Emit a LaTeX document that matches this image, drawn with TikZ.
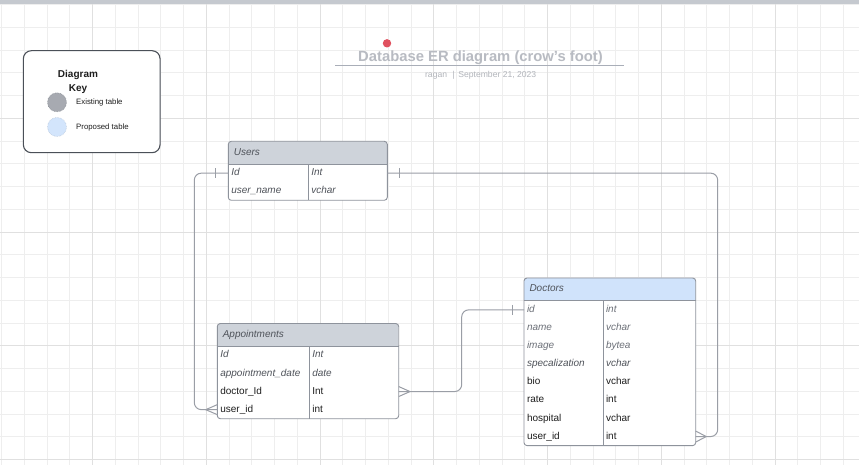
\documentclass[tikz,border=0pt]{standalone}
\usepackage{fontspec}
\setmainfont{Liberation Sans}
\usetikzlibrary{positioning, backgrounds}

\definecolor{gridminor}{HTML}{EEEEEE}
\definecolor{gridmajor}{HTML}{E0E0E0}
\definecolor{topbar}{HTML}{C5C9CF}
\definecolor{framegray}{HTML}{8E939C}
\definecolor{headgray}{HTML}{CED3DA}
\definecolor{headblue}{HTML}{D0E3FB}
\definecolor{relgray}{HTML}{9A9EA6}
\definecolor{keyframe}{HTML}{4B5058}
\definecolor{existfill}{HTML}{A7AAB1}
\definecolor{existdraw}{HTML}{8A8E95}
\definecolor{propfill}{HTML}{D3E5FC}
\definecolor{propdraw}{HTML}{B9C9DC}
\definecolor{titlegray}{HTML}{B8BBC2}
\definecolor{rulegray}{HTML}{A9AEB8}
\definecolor{subgray}{HTML}{B2B5BB}
\definecolor{reddot}{HTML}{E0515F}
\definecolor{italgray}{HTML}{4F535A}
\definecolor{italpale}{HTML}{6C7078}
\definecolor{cellblack}{HTML}{1E1E1E}

\newcommand{\cellfont}{\fontsize{10}{12}\selectfont}
\newcommand{\keyfont}{\fontsize{7.8}{9}\selectfont}

\tikzset{
    head_cell/.style={rectangle, anchor=north west, inner xsep=5.5, inner ysep=0, outer sep=0, minimum height=22.8, text height=7.2, text depth=2.1, align=left, font=\cellfont\itshape, text=italgray},
    cell/.style={rectangle, fill=white, inner xsep=3, inner ysep=0, outer sep=0, minimum height=18.1, text height=7.2, text depth=2.1, align=left, font=\cellfont, text=cellblack},
    ital/.style={font=\cellfont\itshape, text=italgray},
    ital_pale/.style={font=\cellfont\itshape, text=italpale},
    table_frame/.style={draw=framegray, line width=0.9, rounded corners=3},
    divider/.style={draw=framegray, line width=0.9},
    relation/.style={draw=relgray, line width=1, rounded corners=7},
    foot/.style={draw=relgray, line width=1},
    grid_line/.style={draw=gridminor, line width=0.8},
    grid_major/.style={draw=gridmajor, line width=0.8},
    key_box/.style={rectangle, rounded corners=8, minimum width=136.7, minimum height=102, draw=keyframe, line width=1.1, fill=white},
    key_dot/.style={circle, minimum size=19, inner sep=0, line width=0.6, densely dotted},
    key_text/.style={anchor=west, inner sep=0, font=\keyfont, text=cellblack},
}

\begin{document}
\begin{tikzpicture}[x=1pt, y=-1pt]
      \useasboundingbox (0,0) rectangle (859,465);

      %%%%%%%%%%%%%%
      % Background %
      %%%%%%%%%%%%%%
      \begin{scope}[on background layer]
          \fill[white] (0,0) rectangle (859,465);
          \foreach \k in {-1,...,36}
              \draw[grid_line] ({24.3+22.75*\k},0) -- ({24.3+22.75*\k},465);
          \foreach \k in {-1,...,19}
              \draw[grid_line] (0,{27.3+22.75*\k}) -- (859,{27.3+22.75*\k});
          \foreach \k in {3,8,...,33}
              \draw[grid_major] ({24.3+22.75*\k},0) -- ({24.3+22.75*\k},465);
          \foreach \k in {4,9,...,19}
              \draw[grid_major] (0,{27.3+22.75*\k}) -- (859,{27.3+22.75*\k});
      \end{scope}
      \fill[topbar] (0,0) rectangle (859,4.3);

      %%%%%%%%%
      % Title %
      %%%%%%%%%
      \fill[reddot] (387,43.3) circle (4.2pt);
      \node (title) [anchor=base, inner sep=0, font=\fontsize{14.8}{17}\selectfont\bfseries, text=titlegray]
          at (480.5,61.5) {Database ER diagram (crow's foot)};
      \draw[rulegray, line width=1.2] (335,65.7) -- (624,65.7);
      \node (subtitle) [anchor=base, inner sep=0, font=\fontsize{8.6}{10}\selectfont, text=subgray]
          at (480.7,77.8) {ragan\hspace{5.5pt}|\hspace{3.5pt}September 21, 2023};

      %%%%%%%
      % Key %
      %%%%%%%
      \node (key) [key_box] at (91.7,101.7) {};
      \node (key_title) [anchor=base, inner sep=0, align=center, font=\fontsize{10}{13.6}\selectfont\bfseries, text=cellblack]
          at (78,91.4) {Diagram\\Key};
      \node (existing) [key_dot, fill=existfill, draw=existdraw] at (57,102.3) {};
      \node (existing_lbl) [key_text] at (76,102.3) {Existing table};
      \node (proposed) [key_dot, fill=propfill, draw=propdraw] at (57,127) {};
      \node (proposed_lbl) [key_text] at (76,127) {Proposed table};

      %%%%%%%%%
      % Users %
      %%%%%%%%%
      \node (users) [head_cell, text width=148] at (228.3,141.3) {Users};
      \node (users_id) [cell, ital, text width=74, anchor=north west] at (users.south west) {Id};
      \node (users_id_t) [cell, ital, text width=73, right=0pt of users_id] {Int};
      \node (users_name) [cell, ital, text width=74, below=0pt of users_id] {user\_name};
      \node (users_name_t) [cell, ital, text width=73, right=0pt of users_name] {vchar};

      %%%%%%%%%%%%%%%%
      % Appointments %
      %%%%%%%%%%%%%%%%
      \node (appt) [head_cell, text width=170.4] at (217.3,323.5) {Appointments};
      \node (appt_id) [cell, ital, text width=86, anchor=north west] at (appt.south west) {Id};
      \node (appt_id_t) [cell, ital, text width=83.4, right=0pt of appt_id] {Int};
      \node (appt_date) [cell, ital, text width=86, below=0pt of appt_id] {appointment\_date};
      \node (appt_date_t) [cell, ital, text width=83.4, right=0pt of appt_date] {date};
      \node (appt_doc) [cell, text width=86, below=0pt of appt_date] {doctor\_Id};
      \node (appt_doc_t) [cell, text width=83.4, right=0pt of appt_doc] {Int};
      \node (appt_user) [cell, text width=86, below=0pt of appt_doc] {user\_id};
      \node (appt_user_t) [cell, text width=83.4, right=0pt of appt_user] {int};

      %%%%%%%%%%%
      % Doctors %
      %%%%%%%%%%%
      \node (doc) [head_cell, text width=160.7] at (524,278) {Doctors};
      \node (doc_id) [cell, ital_pale, text width=73, anchor=north west] at (doc.south west) {id};
      \node (doc_id_t) [cell, ital_pale, text width=86.7, right=0pt of doc_id] {int};
      \node (doc_name) [cell, ital_pale, text width=73, below=0pt of doc_id] {name};
      \node (doc_name_t) [cell, ital_pale, text width=86.7, right=0pt of doc_name] {vchar};
      \node (doc_image) [cell, ital_pale, text width=73, below=0pt of doc_name] {image};
      \node (doc_image_t) [cell, ital_pale, text width=86.7, right=0pt of doc_image] {bytea};
      \node (doc_spec) [cell, ital, text width=73, below=0pt of doc_image] {specalization};
      \node (doc_spec_t) [cell, ital, text width=86.7, right=0pt of doc_spec] {vchar};
      \node (doc_bio) [cell, text width=73, below=0pt of doc_spec] {bio};
      \node (doc_bio_t) [cell, text width=86.7, right=0pt of doc_bio] {vchar};
      \node (doc_rate) [cell, text width=73, below=0pt of doc_bio] {rate};
      \node (doc_rate_t) [cell, text width=86.7, right=0pt of doc_rate] {int};
      \node (doc_hosp) [cell, text width=73, below=0pt of doc_rate] {hospital};
      \node (doc_hosp_t) [cell, text width=86.7, right=0pt of doc_hosp] {vchar};
      \node (doc_user) [cell, text width=73, below=0pt of doc_hosp] {user\_id};
      \node (doc_user_t) [cell, text width=86.7, right=0pt of doc_user] {int};

      % header fills, clipped to the rounded frames
      \begin{scope}[on background layer]
          \begin{scope}
              \clip[rounded corners=3] (users.north west) rectangle (users_name_t.south east);
              \fill[headgray] (users.north west) rectangle (users.south east);
          \end{scope}
          \begin{scope}
              \clip[rounded corners=3] (appt.north west) rectangle (appt_user_t.south east);
              \fill[headgray] (appt.north west) rectangle (appt.south east);
          \end{scope}
          \begin{scope}
              \clip[rounded corners=3] (doc.north west) rectangle (doc_user_t.south east);
              \fill[headblue] (doc.north west) rectangle (doc.south east);
          \end{scope}
      \end{scope}

      % frames and dividers
      \draw[table_frame] (users.north west) rectangle (users_name_t.south east);
      \draw[divider] (users.south west) -- (users.south east);
      \draw[divider] (users_id_t.north west) -- (users_name_t.south west);
      \draw[table_frame] (appt.north west) rectangle (appt_user_t.south east);
      \draw[divider] (appt.south west) -- (appt.south east);
      \draw[divider] (appt_id_t.north west) -- (appt_user_t.south west);
      \draw[table_frame] (doc.north west) rectangle (doc_user_t.south east);
      \draw[divider] (doc.south west) -- (doc.south east);
      \draw[divider] (doc_id_t.north west) -- (doc_user_t.south west);

      %%%%%%%%%%%%%
      % Relations %
      %%%%%%%%%%%%%
      \draw[relation] (users_id.west) -- ++(-34,0) |- (appt_user.west);
      \draw[foot] ([xshift=-12.6pt]users_id.west) ++(0,-5) -- ++(0,10);
      \draw[foot] ([yshift=5pt]appt_user.west) -- ([xshift=-11.6pt]appt_user.west) -- ([yshift=-5pt]appt_user.west);

      \draw[relation] (users_id_t.east) -- ++(330.4,0) |- (doc_user_t.east);
      \draw[foot] ([xshift=12pt]users_id_t.east) ++(0,-5) -- ++(0,10);
      \draw[foot] ([yshift=5.5pt]doc_user_t.east) -- ([xshift=10.5pt]doc_user_t.east) -- ([yshift=-5.5pt]doc_user_t.east);

      \draw[relation] (appt_doc_t.east) -- ++(63,0) |- (doc_id.west);
      \draw[foot] ([xshift=-11.3pt]doc_id.west) ++(0,-5) -- ++(0,10);
      \draw[foot] ([yshift=5pt]appt_doc_t.east) -- ([xshift=11.3pt]appt_doc_t.east) -- ([yshift=-5pt]appt_doc_t.east);

    \end{tikzpicture}
\end{document}
